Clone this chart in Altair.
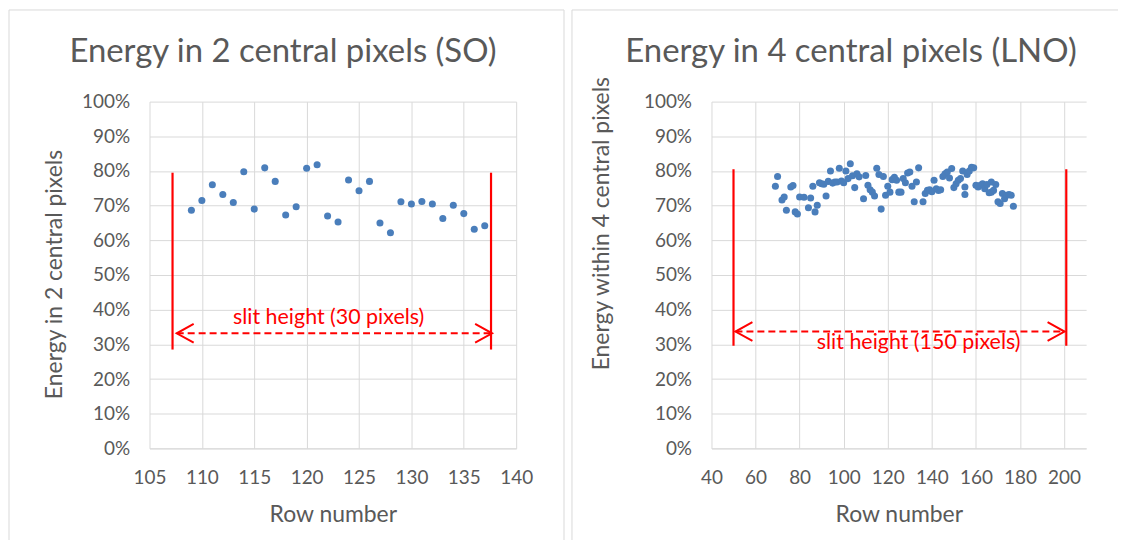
import altair as alt
import pandas as pd

# ---------------- data ----------------
so_rows = [109, 110, 111, 112, 113, 114, 115, 116, 117, 118, 119, 120, 121, 122, 123,
           124, 125, 126, 127, 128, 129, 130, 131, 132, 133, 134, 135, 136, 137]
so_energy = [68.7, 71.5, 76.0, 73.2, 70.9, 79.8, 69.0, 80.9, 77.0, 67.3, 69.7, 80.8, 81.8, 67.0, 65.3,
             77.4, 74.3, 77.0, 65.0, 62.2, 71.1, 70.5, 71.2, 70.5, 66.3, 70.1, 67.7, 63.2, 64.2]

lno_rows = [69, 70, 72, 73, 74, 76, 77, 78, 79, 80, 82, 84, 85, 86, 87, 88, 89, 90, 91, 92,
            93, 94, 95, 96, 97, 98, 99, 100, 101, 102, 103, 104, 105, 106, 107, 109, 110, 111, 112, 113,
            114, 115, 116, 117, 118, 119, 120, 121, 122, 123, 124, 125, 126, 127, 128, 129, 130, 131, 132, 133,
            134, 136, 137, 138, 139, 140, 141, 142, 143, 144, 145, 146, 147, 148, 149, 150, 151, 152, 153, 154,
            155, 155, 156, 157, 158, 159, 160, 161, 162, 163, 164, 165, 166, 167, 167, 168, 169, 170, 171, 172,
            173, 174, 175, 176, 177]
lno_energy = [75.6, 78.4, 71.6, 72.5, 68.7, 75.4, 75.8, 68.2, 67.6, 72.5, 72.4, 69.4, 72.2, 75.6, 68.2, 70.1, 76.6, 76.3, 76.2, 72.8,
              77.0, 80.0, 76.5, 76.8, 76.8, 80.8, 77.1, 76.6, 80.0, 77.8, 82.1, 78.6, 75.2, 79.2, 78.3, 72.0, 78.7, 75.9, 74.6, 73.9,
              72.8, 80.8, 79.0, 69.0, 78.4, 73.0, 75.6, 73.9, 77.5, 78.2, 77.3, 73.9, 73.9, 77.8, 76.6, 79.4, 79.7, 75.6, 71.1, 76.8,
              80.9, 71.1, 73.5, 74.4, 74.6, 74.0, 77.3, 74.9, 74.4, 74.6, 78.4, 79.2, 79.7, 78.0, 80.7, 75.2, 76.3, 77.3, 77.8, 80.0,
              73.2, 75.4, 79.0, 80.0, 81.1, 80.9, 75.9, 75.4, 75.9, 76.3, 74.9, 76.1, 73.7, 76.8, 73.9, 74.4, 76.1, 71.1, 70.6, 73.5,
              72.0, 73.0, 73.2, 73.0, 69.8]

so_ticks = [105, 110, 115, 120, 125, 130, 135, 140]
lno_ticks = [40, 60, 80, 100, 120, 140, 160, 180, 200]
pct_ticks = [0, 0.1, 0.2, 0.3, 0.4, 0.5, 0.6, 0.7, 0.8, 0.9, 1.0]

so_domain = [105, 140]
lno_domain = [40, 210]

# annotations (data coordinates)
so_slit_edges = [107.2, 137.6]
so_slit_span = [0.285, 0.795]
so_arrow = [107.6, 137.7, 0.332]
so_label = ["slit height (30 pixels)", 122.1, 0.376]

lno_slit_edges = [50, 201]
lno_slit_span = [0.296, 0.805]
lno_arrow = [50.9, 200.2, 0.337]
lno_label = ["slit height (150 pixels)", 134.0, 0.305]

TXT = "#595959"
GRID = "#d9d9d9"
RED = "#ff0000"
BLUE = "#4a7ebb"
FONT = "Lato"


def panel(rows, energy, xdom, xticks, edges, span, arrow, label, title, ytitle,
          ytitle_x, ytitle_y, title_x, width, bleft, bright, draw_right):
    H = 348
    xs = alt.Scale(domain=xdom, nice=False, zero=False)
    ys = alt.Scale(domain=[0, 1], nice=False)
    pts = pd.DataFrame({"row": rows, "energy": [e / 100 for e in energy]})

    xaxis = alt.Axis(values=xticks, title="Row number", grid=True,
                     domain=True, domainColor=GRID, ticks=False, labelFlush=False,
                     labelOverlap=False, labelPadding=20, titlePadding=16)
    yaxis = alt.Axis(values=pct_ticks, format=".0%", title=ytitle,
                     domain=False, ticks=False, labelPadding=20, labelFlush=False,
                     labelOverlap=False, tickCount=11,
                     titleX=ytitle_x, titleY=ytitle_y,
                     titleBaseline="middle", titleAngle=270)

    def ax(field):
        return alt.X(field, scale=xs, axis=xaxis)

    def ay(field):
        return alt.Y(field, scale=ys, axis=yaxis)

    scatter = alt.Chart(pts).mark_circle(size=50, color=BLUE, opacity=1).encode(
        x=ax("row:Q"), y=ay("energy:Q"))

    ed = pd.DataFrame({"x": edges, "y1": [span[0]] * 2, "y2": [span[1]] * 2})
    vlines = alt.Chart(ed).mark_rule(color=RED, strokeWidth=2.2).encode(
        x=ax("x:Q"), y=ay("y1:Q"), y2="y2:Q")

    ar = pd.DataFrame({"x1": [arrow[0]], "x2": [arrow[1]], "y": [arrow[2]]})
    dash = alt.Chart(ar).mark_rule(color=RED, strokeWidth=2, strokeDash=[7, 4]).encode(
        x=ax("x1:Q"), x2="x2:Q", y=ay("y:Q"))

    tips = pd.DataFrame({"x": [arrow[0], arrow[1]], "y": [arrow[2]] * 2,
                         "side": ["l", "r"]})
    left_head = alt.Chart(tips[tips.side == "l"]).mark_point(
        shape="M1,-0.55L0,0L1,0.55", filled=False, color=RED, strokeWidth=2,
        size=1156, opacity=1).encode(x=ax("x:Q"), y=ay("y:Q"))
    right_head = alt.Chart(tips[tips.side == "r"]).mark_point(
        shape="M-1,-0.55L0,0L-1,0.55", filled=False, color=RED, strokeWidth=2,
        size=1156, opacity=1).encode(x=ax("x:Q"), y=ay("y:Q"))

    lb = pd.DataFrame({"t": [label[0]], "x": [label[1]], "y": [label[2]]})
    text = alt.Chart(lb).mark_text(font=FONT, fontSize=21.5, color=RED,
                                   align="center", baseline="middle").encode(
        x=ax("x:Q"), y=ay("y:Q"), text="t:N")

    one = pd.DataFrame({"a": [0]})
    heading = alt.Chart(one).mark_text(font=FONT, fontSize=33, color=TXT,
                                       align="center", baseline="middle").encode(
        x=alt.value(title_x), y=alt.value(-50), text=alt.value(title))
    frame = [
        alt.Chart(one).mark_rule(color=GRID, strokeWidth=1).encode(
            x=alt.value(bleft), x2=alt.value(bright), y=alt.value(-92)),
        alt.Chart(one).mark_rule(color=GRID, strokeWidth=1).encode(
            x=alt.value(bleft), y=alt.value(-92), y2=alt.value(440)),
    ]
    if draw_right:
        frame.append(alt.Chart(one).mark_rule(color=GRID, strokeWidth=1).encode(
            x=alt.value(bright), y=alt.value(-92), y2=alt.value(440)))

    return alt.layer(scatter, *frame, heading, vlines, dash, left_head, right_head,
                     text).properties(width=width, height=H)


left = panel(so_rows, so_energy, so_domain, so_ticks, so_slit_edges, so_slit_span,
             so_arrow, so_label, "Energy in 2 central pixels (SO)",
             "Energy in 2 central pixels", -95, 173, 134, 368, -141, 416, True)
right = panel(lno_rows, lno_energy, lno_domain, lno_ticks, lno_slit_edges, lno_slit_span,
              lno_arrow, lno_label, "Energy in 4 central pixels (LNO)",
              "Energy within 4 central pixels", -110, 122, 140, 376, -140, 408, False)

chart = alt.hconcat(left, right, spacing=6).properties(padding=0).configure_view(
    stroke="transparent"
).configure_axis(
    labelFont=FONT, labelFontSize=19, labelColor=TXT,
    titleFont=FONT, titleFontSize=23, titleFontWeight="normal", titleColor=TXT,
    gridColor=GRID, gridWidth=1
)

chart.save("out.html", embed_options={"renderer": "svg", "actions": False})
